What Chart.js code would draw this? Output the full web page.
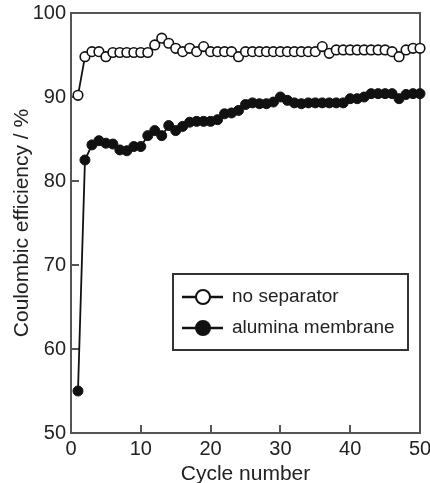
<!DOCTYPE html>
<html>
<head>
<meta charset="utf-8">
<script src="https://cdn.jsdelivr.net/npm/chart.js@4.4.0/dist/chart.umd.min.js"></script>
<style>
  html, body { margin: 0; padding: 0; background: #ffffff; }
  #wrap { width: 430px; height: 483px; position: relative; }
</style>
</head>
<body>
<div id="wrap"><canvas id="chart"></canvas></div>
<script>
// Cycle index (x) and coulombic efficiency (%) of the two cells
const cycles = [1, 2, 3, 4, 5, 6, 7, 8, 9, 10,
                11, 12, 13, 14, 15, 16, 17, 18, 19, 20,
                21, 22, 23, 24, 25, 26, 27, 28, 29, 30,
                31, 32, 33, 34, 35, 36, 37, 38, 39, 40,
                41, 42, 43, 44, 45, 46, 47, 48, 49, 50];

const noSeparator = [90.2, 94.8, 95.4, 95.4, 94.8, 95.3, 95.3, 95.3, 95.3, 95.3,
                     95.3, 96.2, 97.0, 96.4, 95.8, 95.4, 95.8, 95.4, 96.0, 95.4,
                     95.4, 95.4, 95.4, 94.8, 95.4, 95.4, 95.4, 95.4, 95.4, 95.4,
                     95.4, 95.4, 95.4, 95.4, 95.4, 96.0, 95.2, 95.6, 95.6, 95.6,
                     95.6, 95.6, 95.6, 95.6, 95.6, 95.4, 94.8, 95.6, 95.8, 95.8];

const aluminaMembrane = [55.0, 82.5, 84.3, 84.8, 84.5, 84.4, 83.7, 83.6, 84.1, 84.1,
                         85.4, 86.0, 85.4, 86.6, 86.0, 86.5, 87.0, 87.1, 87.1, 87.1,
                         87.3, 88.0, 88.1, 88.4, 89.1, 89.3, 89.2, 89.2, 89.4, 90.0,
                         89.6, 89.3, 89.2, 89.3, 89.3, 89.3, 89.3, 89.3, 89.3, 89.8,
                         89.8, 90.0, 90.4, 90.4, 90.4, 90.4, 89.8, 90.3, 90.4, 90.4];

const xTicks = [0, 10, 20, 30, 40, 50];
const yTicks = [50, 60, 70, 80, 90, 100];

const seriesLabels = ['no separator', 'alumina membrane'];

const INK = '#222222';
const FRAME = '#555555';
const FONT = "'Liberation Sans', Arial, Helvetica, sans-serif";

Chart.defaults.font.family = FONT;
Chart.defaults.color = INK;

const toPoints = (ys) => cycles.map((c, i) => ({ x: c, y: ys[i] }));

// Plot frame with short inward tick marks
const framePlugin = {
  id: 'frame',
  beforeDatasetsDraw(chart) {
    const { ctx, chartArea: a, scales: { x, y } } = chart;
    ctx.save();
    ctx.strokeStyle = FRAME;
    ctx.lineWidth = 2;
    ctx.strokeRect(a.left, a.top, a.right - a.left, a.bottom - a.top);
    ctx.beginPath();
    xTicks.slice(1, -1).forEach(v => {
      const px = Math.round(x.getPixelForValue(v));
      ctx.moveTo(px, a.bottom);
      ctx.lineTo(px, a.bottom - 8);
    });
    yTicks.slice(1, -1).forEach(v => {
      const py = Math.round(y.getPixelForValue(v));
      ctx.moveTo(a.left, py);
      ctx.lineTo(a.left + 8, py);
    });
    ctx.stroke();
    ctx.restore();
  }
};

// Boxed legend inside the plot, drawn from the dataset styles
const boxLegend = {
  id: 'boxLegend',
  afterDraw(chart) {
    const { ctx } = chart;
    const box = { x: 173, y: 274, w: 235, h: 76 };
    ctx.save();
    ctx.fillStyle = '#ffffff';
    ctx.fillRect(box.x, box.y, box.w, box.h);
    ctx.strokeStyle = '#333333';
    ctx.lineWidth = 2;
    ctx.strokeRect(box.x, box.y, box.w, box.h);
    chart.data.datasets.forEach((ds, i) => {
      const cy = box.y + 23 + i * 31;
      ctx.strokeStyle = ds.borderColor;
      ctx.lineWidth = 2.5;
      ctx.beginPath();
      ctx.moveTo(182, cy);
      ctx.lineTo(223, cy);
      ctx.stroke();
      ctx.beginPath();
      ctx.arc(203, cy, 7, 0, Math.PI * 2);
      ctx.fillStyle = ds.pointBackgroundColor;
      ctx.fill();
      ctx.lineWidth = 2;
      ctx.strokeStyle = ds.pointBorderColor;
      ctx.stroke();
      ctx.fillStyle = INK;
      ctx.font = '19px ' + FONT;
      ctx.textAlign = 'left';
      ctx.textBaseline = 'middle';
      ctx.fillText(ds.label, 232, cy);
    });
    ctx.restore();
  }
};

new Chart(document.getElementById('chart'), {
  type: 'line',
  data: {
    datasets: [
      {
        label: seriesLabels[0],
        data: toPoints(noSeparator),
        borderColor: '#111111',
        borderWidth: 1.8,
        pointRadius: 4.8,
        pointBorderWidth: 1.6,
        pointBackgroundColor: '#ffffff',
        pointBorderColor: '#111111',
        tension: 0,
        clip: false
      },
      {
        label: seriesLabels[1],
        data: toPoints(aluminaMembrane),
        borderColor: '#111111',
        borderWidth: 1.8,
        pointRadius: 5,
        pointBorderWidth: 1,
        pointBackgroundColor: '#111111',
        pointBorderColor: '#111111',
        tension: 0,
        clip: false
      }
    ]
  },
  options: {
    responsive: true,
    maintainAspectRatio: false,
    animation: false,
    devicePixelRatio: 1,
    layout: { padding: { top: 13, right: 10, bottom: 0, left: 0 } },
    plugins: {
      legend: { display: false },
      tooltip: { enabled: false }
    },
    scales: {
      x: {
        type: 'linear',
        min: 0,
        max: 50,
        afterBuildTicks: (s) => { s.ticks = xTicks.map(v => ({ value: v })); },
        afterFit: (s) => { s.height = 50; s.paddingLeft = 0; s.paddingRight = 0; },
        grid: { display: false, drawTicks: false },
        border: { display: false },
        ticks: { font: { size: 20 }, color: INK, padding: 4, maxRotation: 0, autoSkip: false },
        title: { display: true, text: 'Cycle number', font: { size: 21 }, color: INK,
                 padding: { top: 0, bottom: -4 } }
      },
      y: {
        min: 50,
        max: 100,
        afterBuildTicks: (s) => { s.ticks = yTicks.map(v => ({ value: v })); },
        afterFit: (s) => { s.width = 71; s.paddingTop = 0; s.paddingBottom = 0; },
        grid: { display: false, drawTicks: false },
        border: { display: false },
        ticks: { font: { size: 20 }, color: INK, padding: 5, autoSkip: false },
        title: { display: true, text: 'Coulombic efficiency / %', font: { size: 21 }, color: INK,
                 padding: { top: 10, bottom: 0 } }
      }
    }
  },
  plugins: [framePlugin, boxLegend]
});
</script>
</body>
</html>
